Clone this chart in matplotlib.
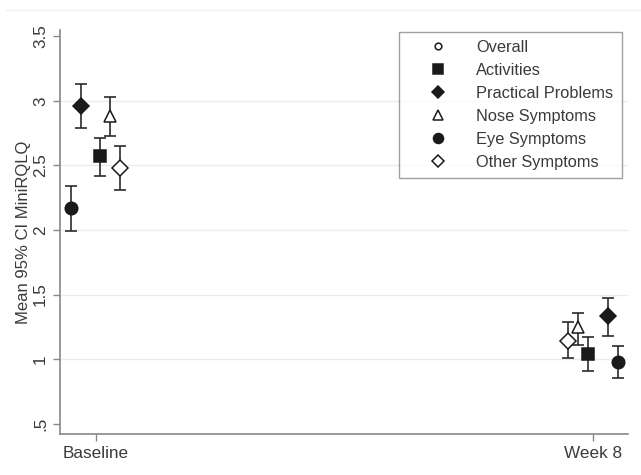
import matplotlib
matplotlib.use("Agg")
import numpy as np
from matplotlib import pyplot as plt
from matplotlib.lines import Line2D

plt.rcParams['font.family'] = ['Liberation Sans', 'DejaVu Sans']

# time points (weeks) and their labels
times = [0, 8]
time_labels = ['Baseline', 'Week 8']

# series: mean at baseline / week 8, CI low, CI high, x offset (weeks)
names = ['Activities', 'Practical Problems', 'Nose Symptoms', 'Eye Symptoms', 'Other Symptoms']
means = [[2.57, 1.04], [2.96, 1.33], [2.88, 1.25], [2.17, 0.98], [2.48, 1.14]]
ci_lo = [[2.42, 0.91], [2.79, 1.18], [2.73, 1.11], [1.99, 0.85], [2.31, 1.01]]
ci_hi = [[2.71, 1.17], [3.13, 1.47], [3.03, 1.36], [2.34, 1.10], [2.65, 1.29]]
offsets = [[0.07, -0.08], [-0.24, 0.24], [0.23, -0.24], [-0.41, 0.40], [0.39, -0.40]]

legend_order = ['Overall', 'Activities', 'Practical Problems', 'Nose Symptoms',
                'Eye Symptoms', 'Other Symptoms']
markers = {'Overall': ('o', 'none', 6),
           'Activities': ('s', '#1a1a1a', 8.5),
           'Practical Problems': ('D', '#1a1a1a', 8),
           'Nose Symptoms': ('^', 'none', 9),
           'Eye Symptoms': ('o', '#1a1a1a', 9),
           'Other Symptoms': ('D', 'none', 8)}

fig = plt.figure(figsize=(6.41, 4.75), dpi=100)
ax = fig.add_axes([0.0936, 0.0863, 0.886, 0.851])

for i, name in enumerate(names):
    x = np.array(times) + np.array(offsets[i])
    m = np.array(means[i])
    err = [m - np.array(ci_lo[i]), np.array(ci_hi[i]) - m]
    mk, fc, ms = markers[name]
    ax.errorbar(x, m, yerr=err, fmt='none', ecolor='#2b2b2b', elinewidth=1.2,
                capsize=4, capthick=1.2, zorder=2)
    ax.plot(x, m, linestyle='none', marker=mk, markersize=ms,
            markerfacecolor='white' if fc == 'none' else fc,
            markeredgecolor='#1a1a1a', markeredgewidth=1.1, zorder=3)

ax.set_xlim(-0.58, 8.56)
ax.set_ylim(0.42, 3.55)

ax.set_yticks([0.5, 1, 1.5, 2, 2.5, 3, 3.5])
ax.set_yticklabels(['.5', '1', '1.5', '2', '2.5', '3', '3.5'], rotation=90, va='center')
ax.set_xticks(times)
ax.set_xticklabels(time_labels)
ax.tick_params(colors='#888888', labelcolor='#3a3a3a', labelsize=12.3, length=5, width=1)

for g in [1, 1.5, 2, 2.5, 3]:
    ax.axhline(g, color='#ebebeb', linewidth=1, zorder=0)

for s in ['top', 'right']:
    ax.spines[s].set_visible(False)
for s in ['left', 'bottom']:
    ax.spines[s].set_color('#888888')
    ax.spines[s].set_linewidth(1.2)

ax.set_ylabel('Mean 95% CI MiniRQLQ', fontsize=12, color='#3a3a3a', labelpad=1.5)

handles = []
for name in legend_order:
    mk, fc, ms = markers[name]
    handles.append(Line2D([], [], linestyle='none', marker=mk, markersize=ms * 0.8,
                          markerfacecolor='white' if fc == 'none' else fc,
                          markeredgecolor='#1a1a1a', markeredgewidth=1.1))
leg = ax.legend(handles, legend_order, loc='upper right', bbox_to_anchor=(0.989, 0.995),
                fontsize=11.8, frameon=True, fancybox=False, handlelength=3.8,
                handletextpad=0.43, labelspacing=0.49, borderpad=0.5,
                labelcolor='#3a3a3a', borderaxespad=0)
leg.get_frame().set_edgecolor('#888888')
leg.get_frame().set_linewidth(1.0)

fig.add_artist(Line2D([0.01, 1.0], [0.979, 0.979], color='#f0f0f0', linewidth=1))

fig.savefig('out.png', dpi=100)
